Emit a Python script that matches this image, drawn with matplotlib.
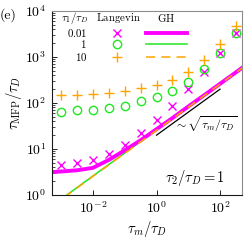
import matplotlib
matplotlib.use("Agg")
import matplotlib.pyplot as plt
from matplotlib.ticker import LogLocator, NullLocator, NullFormatter

plt.rcParams['mathtext.fontset'] = 'cm'
plt.rcParams['font.family'] = 'serif'
plt.rcParams['font.serif'] = ['cmr10', 'DejaVu Serif']
plt.rcParams['axes.unicode_minus'] = False

# Langevin data (markers)
tau_m = [1e-3, 3.16e-3, 1e-2, 3.16e-2, 1e-1, 3.16e-1, 1, 3.16, 10, 31.6, 100, 316]
lang_001 = [4.6, 4.9, 5.8, 7.9, 12.4, 22, 43, 87, 198, 470, 1200, 3250]
lang_1 = [65, 69, 71, 76, 86, 110, 137, 186, 290, 550, 1240, 3250]
lang_10 = [149, 153, 156, 162, 180, 209, 246, 316, 480, 860, 1910, 4700]

# GH curves
gh_x_001 = [5e-4, 1e-3, 3.16e-3, 1e-2, 3.16e-2, 1e-1, 3.16e-1, 1, 3.16, 10, 31.6, 100, 500]
gh_y_001 = [3.15, 3.25, 3.45, 3.9, 5.8, 9.4, 15.5, 27, 47, 84, 148, 262, 585]
gh_x = [5e-4, 1.5e-3, 1e-2, 1e-1, 1, 10, 100, 500]
gh_y_1 = [0.58, 1.0, 2.6, 8.2, 26, 82, 260, 580]
gh_y_10 = [0.57, 0.98, 2.55, 8.05, 25.5, 81, 258, 578]

# reference slope
ref_x = [1, 100]
ref_y = [20, 200]

legend_vals = ['$0.01$', '$1$', '$10$']

c_mag = '#ff00ff'
c_grn = '#22e622'
c_org = '#ffa500'

fig = plt.figure(figsize=(2.49, 2.44), dpi=100)
ax = fig.add_axes([0.2076, 0.2008, 0.7631, 0.7541])

ax.plot(gh_x, gh_y_1, color=c_grn, lw=1.1, zorder=2)
ax.plot(gh_x, gh_y_10, color=c_org, lw=1.1, dashes=(6, 4), zorder=3)
ax.plot(gh_x_001, gh_y_001, color=c_mag, lw=2.8, zorder=2.5)
ax.plot(ref_x, ref_y, color='black', lw=0.9, zorder=2)

ax.plot(tau_m, lang_001, ls='none', marker='x', ms=5.5, mew=1.0, color=c_mag, zorder=4)
ax.plot(tau_m, lang_1, ls='none', marker='o', ms=6, mew=1.0, mfc='none', mec=c_grn, zorder=4)
ax.plot(tau_m, lang_10, ls='none', marker='+', ms=7, mew=1.0, color=c_org, zorder=4)

ax.set_xscale('log')
ax.set_yscale('log')
ax.set_xlim(5e-4, 480)
ax.set_ylim(1, 1e4)
ax.set_xticks([1e-2, 1, 1e2])
ax.xaxis.set_minor_locator(NullLocator())
ax.yaxis.set_major_locator(LogLocator(base=10, numticks=10))
ax.yaxis.set_minor_locator(LogLocator(base=10, subs=range(2, 10), numticks=10))
ax.yaxis.set_minor_formatter(NullFormatter())
ax.tick_params(which='both', direction='in', top=False, right=False, labelsize=10, pad=4)
ax.tick_params(which='major', length=3.5, width=0.6)
ax.tick_params(which='minor', length=1.8, width=0.5)
for s in ['top', 'right']:
    ax.spines[s].set_color('0.55')
for s in ['left', 'bottom']:
    ax.spines[s].set_color('0.1')
for s in ax.spines.values():
    s.set_linewidth(0.8)

ax.set_xlabel(r'$\tau_m/\tau_D$', fontsize=10.5, labelpad=2)
ax.set_ylabel(r'$\tau_{\mathrm{MFP}}/\tau_D$', fontsize=10.5, labelpad=1)

# legend table
fs = 7.8
ax.text(0.123, 0.962, r'$\tau_1/\tau_D$', transform=ax.transAxes, ha='center', va='center', fontsize=fs)
ax.text(0.352, 0.962, r'$\mathrm{Langevin}$', transform=ax.transAxes, ha='center', va='center', fontsize=fs)
ax.text(0.600, 0.962, r'$\mathrm{GH}$', transform=ax.transAxes, ha='center', va='center', fontsize=fs)
rows = [0.882, 0.822, 0.752]
styles = [
    dict(marker='x', ms=5.5, mew=1.0, color=c_mag),
    dict(marker='o', ms=6, mew=1.0, mfc='none', mec=c_grn),
    dict(marker='+', ms=7, mew=1.0, color=c_org),
]
lstyles = [
    dict(color=c_mag, lw=2.8),
    dict(color=c_grn, lw=1.1),
    dict(color=c_org, lw=1.1, dashes=(6, 4)),
]
for lab, yy, ms_, ls_ in zip(legend_vals, rows, styles, lstyles):
    ax.text(0.186, yy, lab, transform=ax.transAxes, ha='right', va='center', fontsize=fs)
    ax.plot([0.342], [yy], transform=ax.transAxes, ls='none', clip_on=False, **ms_)
    ax.plot([0.495, 0.714], [yy, yy], transform=ax.transAxes, clip_on=False, **ls_)

ax.text(3.5, 34, r'$\sim\sqrt{\tau_m/\tau_D}$', fontsize=8.6, ha='left', va='center')
ax.text(0.755, 0.095, r'$\tau_2/\tau_D = 1$', transform=ax.transAxes, ha='center', va='center', fontsize=10.5)

fig.text(0.0, 0.94, '(e)', fontsize=10, ha='left', va='center')

fig.savefig('out.png', dpi=100)
